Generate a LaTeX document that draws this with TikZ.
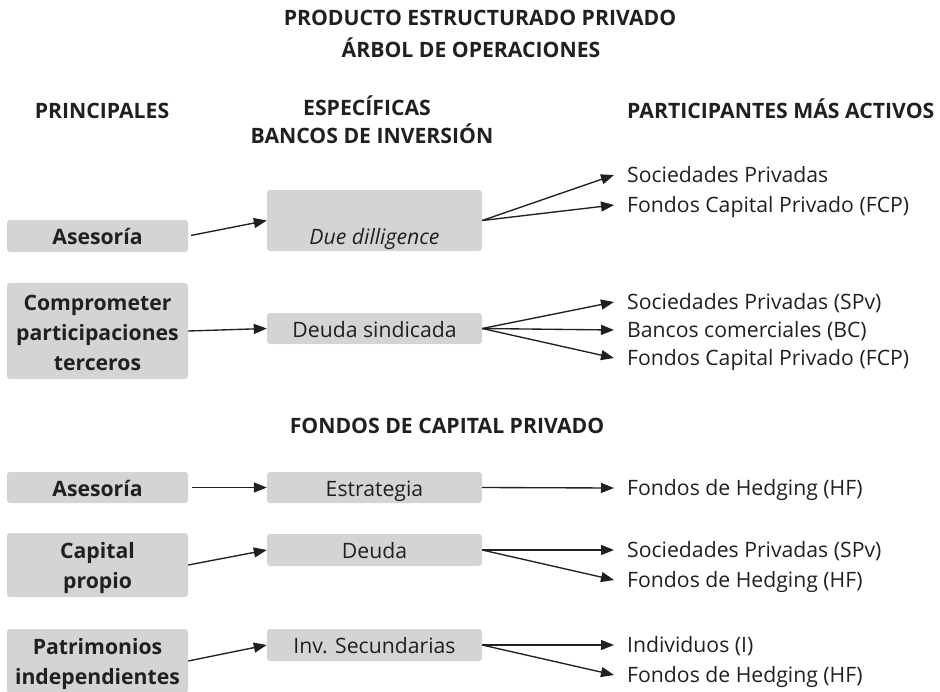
\documentclass[tikz,border=0pt]{standalone}
\usepackage{fontspec}
\setmainfont{Open Sans}
\usetikzlibrary{arrows.meta}
\definecolor{ink}{HTML}{231F20}
\definecolor{boxgray}{HTML}{D3D4D6}
\tikzset{
  x=1pt, y=-1pt,
  every node/.style={text=ink, font=\fontsize{21.2}{30}\selectfont},
  lbox/.style={fill=boxgray, rounded corners=3pt, inner sep=0pt, minimum width=181pt, align=center, font=\fontsize{21.2}{30}\selectfont\bfseries},
  mbox/.style={fill=boxgray, rounded corners=3pt, inner sep=0pt, minimum width=215pt, align=center},
  oneline/.style={text height=18pt, text depth=1pt},
  rtext/.style={anchor=base west, inner xsep=0pt, inner ysep=0pt, text height=16pt, text depth=2pt},
  hdr/.style={font=\fontsize{21.2}{30}\selectfont\bfseries, inner sep=0pt},
  arr/.style={draw=ink, line width=1.35pt, -{Triangle[length=13pt,width=10pt]}},
}
\begin{document}
\begin{tikzpicture}
\path[use as bounding box] (0,0) rectangle (940,691);
% headers
\node[hdr, anchor=base] (t1) at (480,25) {PRODUCTO ESTRUCTURADO PRIVADO};
\node[hdr, anchor=base] (t2) at (471,57) {ÁRBOL DE OPERACIONES};
\node[hdr, anchor=base] (h1) at (102,118) {PRINCIPALES};
\node[hdr, anchor=base] (h2) at (367,115) {ESPECÍFICAS};
\node[hdr, anchor=base] (h3) at (372,143) {BANCOS DE INVERSIÓN};
\node[hdr, anchor=base west] (h4) at (627,118) {PARTICIPANTES MÁS ACTIVOS};
\node[hdr, anchor=base] (h5) at (447,433) {FONDOS DE CAPITAL PRIVADO};
% left boxes
\node[lbox, oneline, minimum height=32pt] (a1) at (97.5,236) {Asesoría};
\node[lbox, minimum height=96pt] (a2) at (97.5,331) {\rule{0pt}{20pt}Comprometer\\participaciones\\terceros};
\node[lbox, oneline, minimum height=31pt] (a3) at (97.5,487.5) {Asesoría};
\node[lbox, minimum height=64pt] (a4) at (97.5,565) {\rule{0pt}{22pt}Capital\\propio};
\node[lbox, minimum height=64pt] (a5) at (97.5,661) {\rule{0pt}{22pt}Patrimonios\\independientes};
% middle boxes
\node[mbox, minimum height=61pt, text height=52pt, text depth=5pt] (b1) at (374.5,220.5) {\itshape Due dilligence};
\node[mbox, oneline, minimum height=31pt] (b2) at (374.5,328.5) {Deuda sindicada};
\node[mbox, oneline, minimum height=31pt] (b3) at (374.5,487.5) {Estrategia};
\node[mbox, oneline, minimum height=32pt] (b4) at (374.5,550) {Deuda};
\node[mbox, oneline, minimum height=32pt] (b5) at (374.5,645) {Inv. Secundarias};
% right texts
\begin{scope}[every node/.append style={rtext}]
\node (r1) at (614,182) {\hspace{13pt}Sociedades Privadas};
\node (r2) at (614,212) {\hspace{13pt}Fondos Capital Privado (FCP)};
\node (r3) at (614,309) {\hspace{13pt}Sociedades Privadas (SPv)};
\node (r4) at (614,337) {\hspace{13pt}Bancos comerciales (BC)};
\node (r5) at (614,365) {\hspace{13pt}Fondos Capital Privado (FCP)};
\node (r6) at (614,495) {\hspace{13pt}Fondos de Hedging (HF)};
\node (r7) at (614,557) {\hspace{13pt}Sociedades Privadas (SPv)};
\node (r8) at (614,587) {\hspace{13pt}Fondos de Hedging (HF)};
\node (r9) at (614,652) {\hspace{13pt}Individuos (I)};
\node (r10) at (614,682) {\hspace{13pt}Fondos de Hedging (HF)};
\end{scope}
% connectors
\draw[arr, shorten <=3pt] (a1.east) -- (b1.west);
\draw[arr] (a2.east) -- (b2.west);
\draw[arr, shorten <=4pt] (a3.east) -- (b3.west);
\draw[arr] (a4.east) -- (b4.west);
\draw[arr] (a5.east) -- (b5.west);
\draw[arr] (b1.east) -- (r1.west);
\draw[arr] (b1.east) -- (r2.west);
\draw[arr] (b2.east) -- (r3.west);
\draw[arr] (b2.east) -- (r4.west);
\draw[arr] (b2.east) -- (r5.west);
\draw[arr] (b3.east) -- (r6.west);
\draw[arr] (b4.east) -- (r7.west);
\draw[arr] (b4.east) -- (r8.west);
\draw[arr] (b5.east) -- (r9.west);
\draw[arr] (b5.east) -- (r10.west);
\end{tikzpicture}
\end{document}
